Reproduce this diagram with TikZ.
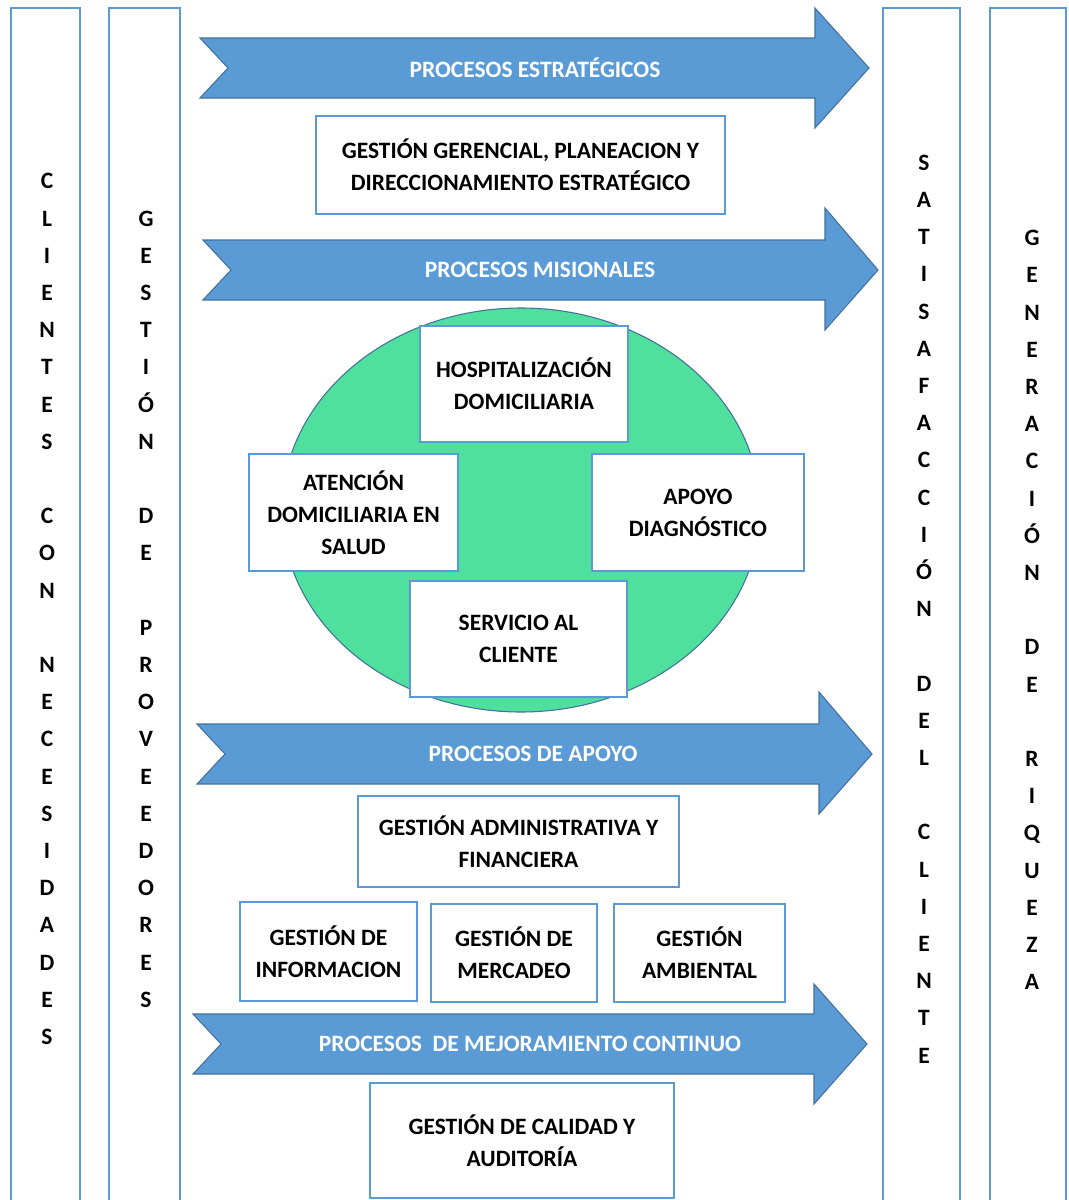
\documentclass[tikz,border=0pt]{standalone}
\usepackage{fontspec}
\setmainfont{Carlito}
\usetikzlibrary{positioning}
\definecolor{procblue}{HTML}{5B9BD5}
\definecolor{procedge}{HTML}{41719C}
\definecolor{misgreen}{HTML}{50E09E}

\begin{document}
\begin{tikzpicture}[x=0.75pt,y=-0.75pt,
  every node/.style={font=\bfseries\fontsize{17.6pt}{24pt}\selectfont},
  caja/.style={draw=procblue,fill=white,line width=1pt,align=center,inner sep=0pt},
  columna/.style={draw=procblue,line width=1pt},
  letras/.style={align=center,inner sep=0pt,font=\bfseries\fontsize{17.6pt}{27.9pt}\selectfont},
  flecha/.style={fill=procblue,draw=procedge,line width=0.8pt},
  titulo/.style={text=white}]
   \useasboundingbox (0,0) rectangle (1068,1200);
   \clip (0,0) rectangle (1068,1200);
   % columnas laterales
   \draw[columna] (11,8) rectangle (80,1215);
   \draw[columna] (109,8) rectangle (180,1215);
   \draw[columna] (883,8) rectangle (960,1215);
   \draw[columna] (990,8) rectangle (1066,1215);
   \node[letras] (clientes) at (47,609) {C\\L\\I\\E\\N\\T\\E\\S\\~\\C\\O\\N\\~\\N\\E\\C\\E\\S\\I\\D\\A\\D\\E\\S};
   \node[letras] (proveedores) at (146,609) {G\\E\\S\\T\\I\\Ó\\N\\~\\D\\E\\~\\P\\R\\O\\V\\E\\E\\D\\O\\R\\E\\S};
   \node[letras] (satisfaccion) at (924,609) {S\\A\\T\\I\\S\\A\\F\\A\\C\\C\\I\\Ó\\N\\~\\D\\E\\L\\~\\C\\L\\I\\E\\N\\T\\E};
   \node[letras] (riqueza) at (1032,610) {G\\E\\N\\E\\R\\A\\C\\I\\Ó\\N\\~\\D\\E\\~\\R\\I\\Q\\U\\E\\Z\\A};
   % flechas de procesos
   \draw[flecha] (200,38) -- (815,38) -- (815,8) -- (869,68) -- (815,128) -- (815,98) -- (200,98) -- (228,68) -- cycle;
   \node[titulo] (estrategicos) at (535,68) {PROCESOS ESTRATÉGICOS};
   \draw[flecha] (203,240) -- (825,240) -- (825,208) -- (878,270) -- (825,330) -- (825,300) -- (203,300) -- (231,270) -- cycle;
   \node[titulo] (misionales) at (540,270) {PROCESOS MISIONALES};
   \draw[flecha] (197,724) -- (819,724) -- (819,692) -- (872,754) -- (819,814) -- (819,784) -- (197,784) -- (225,754) -- cycle;
   \node[titulo] (apoyo) at (533,754) {PROCESOS DE APOYO};
   \draw[flecha] (193,1014) -- (814,1014) -- (814,984) -- (867,1044) -- (814,1104) -- (814,1074) -- (193,1074) -- (221,1044) -- cycle;
   \node[titulo] (mejoramiento) at (530,1044) {PROCESOS\ \ DE MEJORAMIENTO CONTINUO};
   % estrategicos
   \node[caja,minimum width=306.75pt,minimum height=73.5pt] (gerencial) at (520.5,165) {GESTIÓN GERENCIAL, PLANEACION Y\\DIRECCIONAMIENTO ESTRATÉGICO};
   % misionales
   \draw[fill=misgreen,draw=procedge,line width=0.8pt] (521,510) ellipse [x radius=239, y radius=202];
   \node[caja,minimum width=156pt,minimum height=87pt] (hospitalizacion) at (524,384) {HOSPITALIZACIÓN\\DOMICILIARIA};
   \node[caja,minimum width=156.75pt,minimum height=87.75pt] (atencion) at (353.5,512.5) {ATENCIÓN\\DOMICILIARIA EN\\SALUD};
   \node[caja,minimum width=159pt,minimum height=87.75pt] (diagnostico) at (698,512.5) {APOYO\\DIAGNÓSTICO};
   \node[caja,minimum width=162.75pt,minimum height=87pt] (servicio) at (518.5,639) {SERVICIO AL\\CLIENTE};
   % apoyo
   \node[caja,minimum width=240.75pt,minimum height=68.25pt] (administrativa) at (518.5,841.5) {GESTIÓN ADMINISTRATIVA Y\\FINANCIERA};
   \node[caja,minimum width=132.75pt,minimum height=74.25pt] (informacion) at (328.5,951.5) {GESTIÓN DE\\INFORMACION};
   \node[caja,minimum width=124.5pt,minimum height=73.5pt] (mercadeo) at (514,953) {GESTIÓN DE\\MERCADEO};
   \node[caja,minimum width=128.25pt,minimum height=73.5pt] (ambiental) at (699.5,953) {GESTIÓN\\AMBIENTAL};
   % mejoramiento
   \node[caja,minimum width=228pt,minimum height=86.25pt] (calidad) at (522,1140.5) {GESTIÓN DE CALIDAD Y\\AUDITORÍA};
\end{tikzpicture}
\end{document}
